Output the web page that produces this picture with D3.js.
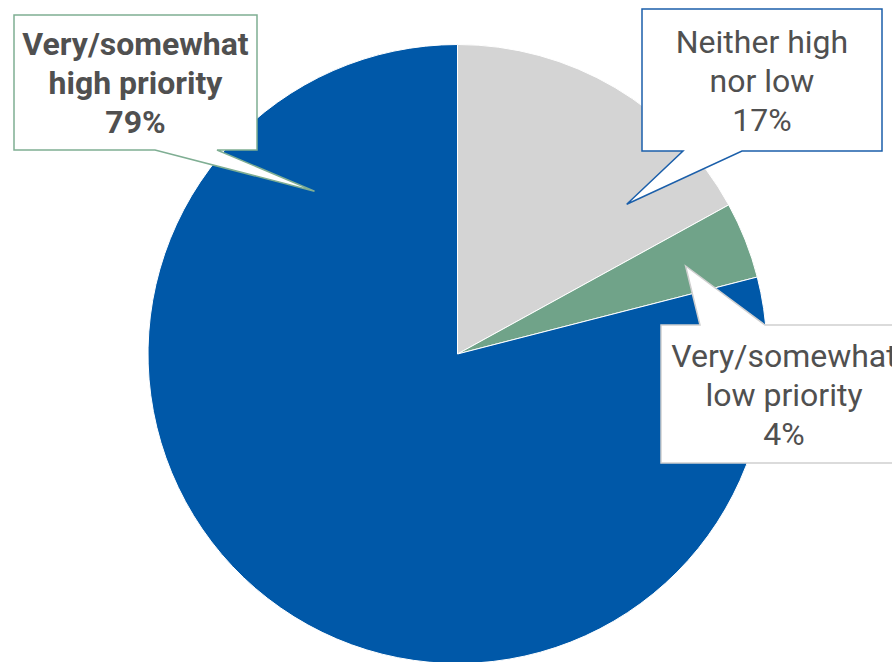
<!DOCTYPE html>
<html>
<head>
<meta charset="utf-8">
<script src="https://cdn.jsdelivr.net/npm/d3@7/dist/d3.min.js"></script>
<style>
  html, body { margin: 0; padding: 0; background: #fff; overflow: hidden; }
  svg { display: block; }
</style>
</head>
<body>
<svg id="chart" width="892" height="662"></svg>
<script>
// Survey response shares (percent)
const categories = ["Neither high nor low", "Very/somewhat low priority", "Very/somewhat high priority"];
const values = [17, 4, 79];
const labelLines = [
  ["Neither high", "nor low"],
  ["Very/somewhat", "low priority"],
  ["Very/somewhat", "high priority"]
];
const sliceColors = ["#d4d4d4", "#70a389", "#0058a8"];
const calloutBorders = ["#1b5faa", "#cfcfcf", "#7fae93"];

const W = 892, H = 662;
const cx = 457.5, cy = 354, radius = 309.5;

const svg = d3.select("#chart");

const pie = d3.pie().sort(null).value(d => d)(values);
const arc = d3.arc().innerRadius(0).outerRadius(radius);

const g = svg.append("g").attr("transform", `translate(${cx},${cy})`);
g.selectAll("path.slice")
  .data(pie)
  .join("path")
  .attr("class", "slice")
  .attr("d", arc)
  .attr("fill", (d, i) => sliceColors[i])
  .attr("stroke", "#ffffff")
  .attr("stroke-width", 1);

// Callout layout: box rectangle, pointer base span, pointer tip in polar form (deg, fraction of radius)
const callouts = [
  { box: [642, 9, 882, 151], side: "bottom", base: [683, 742], tip: [48.5, 0.73], cx: 762, base0: 53, bold: false },
  { box: [661, 325, 910, 463], side: "top", base: [700, 765], tip: [68.9, 0.79], cx: 784, base0: 367, bold: false },
  { box: [14, 15, 257, 150], side: "bottom", base: [155, 217], tip: [318.7, 0.70], cx: 135.5, base0: 55, bold: true }
];

function tipPoint(t) {
  const a = t[0] * Math.PI / 180;
  const r = t[1] * radius;
  return [cx + r * Math.sin(a), cy - r * Math.cos(a)];
}

function calloutPath(c) {
  const [x0, y0, x1, y1] = c.box;
  const [tx, ty] = tipPoint(c.tip);
  const [b0, b1] = c.base;
  if (c.side === "bottom") {
    return `M${x0},${y0}H${x1}V${y1}H${b1}L${tx},${ty}L${b0},${y1}H${x0}Z`;
  }
  return `M${x0},${y0}H${b0}L${tx},${ty}L${b1},${y0}H${x1}V${y1}H${x0}Z`;
}

const lineGap = 39;
callouts.forEach((c, i) => {
  const grp = svg.append("g");
  grp.append("path")
    .attr("d", calloutPath(c))
    .attr("fill", "#ffffff")
    .attr("stroke", calloutBorders[i])
    .attr("stroke-width", 1.5)
    .attr("stroke-linejoin", "miter");
  const lines = labelLines[i].concat([values[i] + "%"]);
  grp.selectAll("text")
    .data(lines)
    .join("text")
    .attr("x", c.cx)
    .attr("y", (d, j) => c.base0 + j * lineGap)
    .attr("text-anchor", "middle")
    .attr("font-family", "Roboto, 'Noto Sans', sans-serif")
    .attr("font-size", 32)
    .attr("font-weight", c.bold ? 700 : 400)
    .attr("fill", "#505050")
    .text(d => d);
});
</script>
</body>
</html>
